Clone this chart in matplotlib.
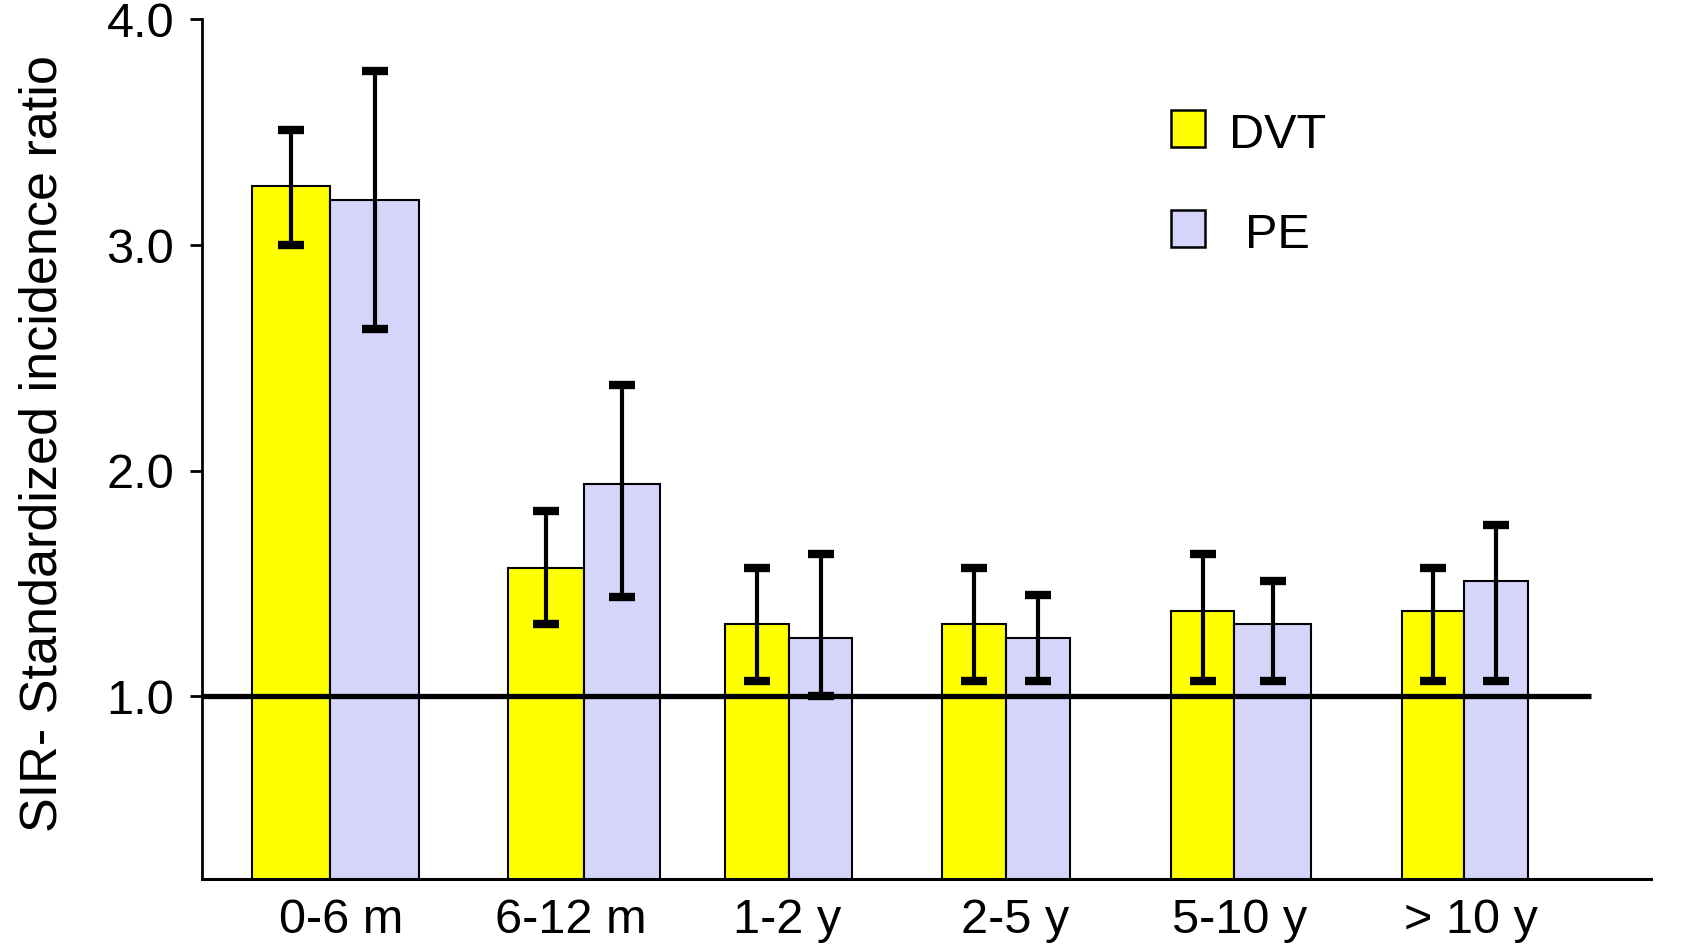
import numpy as np
import matplotlib
matplotlib.use("Agg")
import matplotlib.pyplot as plt
from matplotlib.patches import Rectangle

plt.rcParams['font.family'] = ['Liberation Sans', 'DejaVu Sans']

# data
categories = ['0-6 m', '6-12 m', '1-2 y', '2-5 y', '5-10 y', '> 10 y']
dvt = [3.26, 1.57, 1.32, 1.32, 1.38, 1.38]
dvt_lo = [3.00, 1.32, 1.07, 1.07, 1.07, 1.07]
dvt_hi = [3.51, 1.82, 1.57, 1.57, 1.63, 1.57]
pe = [3.20, 1.94, 1.26, 1.26, 1.32, 1.51]
pe_lo = [2.63, 1.44, 1.00, 1.07, 1.07, 1.07]
pe_hi = [3.77, 2.38, 1.63, 1.45, 1.51, 1.76]

# layout (pixel-like x units, bars are not evenly spaced in the original)
dvt_left = np.array([252, 508, 725, 942, 1171, 1402])
pe_left = np.array([330, 584, 789, 1006, 1234, 1464])
pe_right = np.array([419, 660, 852, 1070, 1311, 1528])
label_x = np.array([341, 571, 787, 1015, 1240, 1471])
dvt_w = pe_left - dvt_left
pe_w = pe_right - pe_left

yellow = '#FFFF00'
lavender = '#D5D5FC'

fig = plt.figure(figsize=(16.84, 9.51), dpi=100)
ax = fig.add_axes([0.12, 0.0762, 0.8604, 0.9035])

ax.bar(dvt_left, dvt, width=dvt_w, align='edge', bottom=0,
       color=yellow, edgecolor='black', linewidth=1.5, zorder=2)
ax.bar(pe_left, pe, width=pe_w, align='edge', bottom=0,
       color=lavender, edgecolor='black', linewidth=1.5, zorder=2)

ax.hlines(1.0, 202, 1591, color='black', linewidth=3.8, zorder=3)

dvt_err = [np.array(dvt) - np.array(dvt_lo), np.array(dvt_hi) - np.array(dvt)]
pe_err = [np.array(pe) - np.array(pe_lo), np.array(pe_hi) - np.array(pe)]
ekw = dict(fmt='none', ecolor='black', elinewidth=3, capsize=9.5, capthick=6, zorder=4)
ax.errorbar(dvt_left + dvt_w / 2, dvt, yerr=dvt_err, **ekw)
ax.errorbar(pe_left + pe_w / 2, pe, yerr=pe_err, **ekw)

ax.set_xlim(202, 1651)
ax.set_ylim(0.193, 4.0)

ax.set_yticks([1.0, 2.0, 3.0, 4.0])
ax.set_yticklabels(['%.1f' % v for v in [1.0, 2.0, 3.0, 4.0]])
ax.set_xticks(label_x)
ax.set_xticklabels(categories)

ax.tick_params(axis='y', direction='out', length=9, width=2, pad=11, labelsize=35)
ax.tick_params(axis='x', length=0, pad=14, labelsize=35)

for s in ['top', 'right']:
    ax.spines[s].set_visible(False)
ax.spines['left'].set_linewidth(2)
ax.spines['bottom'].set_linewidth(2.2)

fig.text(43 / 1684, 0.534, 'SIR- Standardized incidence ratio', rotation=90,
         ha='center', va='center', fontsize=37.5)

# legend drawn by hand to follow the original placement
W, H = 1684, 951
for (y0, col, lab, tx) in [(110, yellow, 'DVT', 1229), (210, lavender, 'PE', 1245)]:
    fig.add_artist(Rectangle((1171 / W, 1 - (y0 + 37) / H), 34 / W, 37 / H,
                             facecolor=col, edgecolor='black', linewidth=1.8,
                             transform=fig.transFigure))
    fig.text(tx / W, 1 - (y0 + 26) / H, lab, ha='left', va='center', fontsize=35)

fig.savefig('out.png', dpi=100)
